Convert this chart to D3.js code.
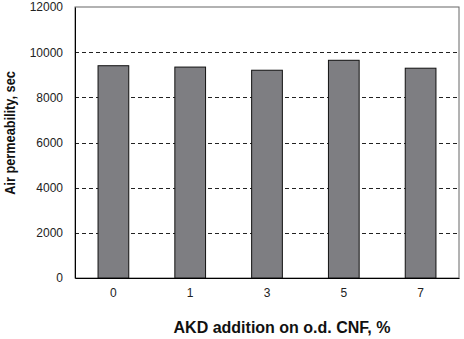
<!DOCTYPE html>
<html><head><meta charset="utf-8">
<script src="https://cdn.jsdelivr.net/npm/d3@7"></script>
<style>body{margin:0;background:#fff}svg{display:block}</style>
</head><body>
<svg id="c" width="464" height="339"></svg>
<script>
const categories = ["0", "1", "3", "5", "7"];
const values = [9400, 9340, 9200, 9640, 9290];
const yTicks = [0, 2000, 4000, 6000, 8000, 10000, 12000];
const xTitle = "AKD addition on o.d. CNF, %";
const yTitle = "Air permeability, sec";

const svg = d3.select("#c");
const m = {l: 75, r: 5, t: 7, b: 61};
const W = 464, H = 339;
const x = d3.scaleBand().domain(categories).range([m.l, W - m.r]).padding(0);
const y = d3.scaleLinear().domain([0, 12000]).range([H - m.b, m.t]);
const font = "Liberation Sans, Arial, sans-serif";

// frame
svg.append("rect").attr("x", m.l).attr("y", m.t)
  .attr("width", W - m.r - m.l).attr("height", H - m.b - m.t)
  .attr("fill", "#fff").attr("stroke", "#666").attr("stroke-width", 1);

// gridlines
svg.append("g").selectAll("line").data(yTicks.filter(d => d > 0 && d < 12000)).join("line")
  .attr("x1", m.l).attr("x2", W - m.r)
  .attr("y1", d => Math.round(y(d)) + 0.5).attr("y2", d => Math.round(y(d)) + 0.5)
  .attr("stroke", "#222").attr("stroke-dasharray", "4,3");

// bars
const bw = x.bandwidth() * 0.4;
svg.append("g").selectAll("rect").data(values).join("rect")
  .attr("x", (d, i) => x(categories[i]) + x.bandwidth() / 2 - bw / 2)
  .attr("width", bw)
  .attr("y", d => y(d))
  .attr("height", d => y(0) - y(d))
  .attr("fill", "#7e7e82").attr("stroke", "#111").attr("stroke-width", 1);

// axes
const ya = svg.append("g").attr("transform", `translate(${m.l},0)`)
  .call(d3.axisLeft(y).tickValues(yTicks).tickSize(0).tickPadding(12).tickFormat(d3.format("d")));
ya.select(".domain").attr("stroke", "#000");
ya.selectAll("text").attr("font-family", font).attr("font-size", 12).attr("fill", "#222");

const xa = svg.append("g").attr("transform", `translate(0,${H - m.b})`)
  .call(d3.axisBottom(x).tickSize(0).tickPadding(10));
xa.select(".domain").attr("stroke", "#000");
xa.selectAll("text").attr("font-family", font).attr("font-size", 12).attr("fill", "#222");

// titles
svg.append("text").attr("x", 282).attr("y", 333).attr("text-anchor", "middle")
  .attr("font-family", font).attr("font-weight", "bold").attr("font-size", 16).attr("fill", "#111")
  .text(xTitle);
svg.append("text").attr("transform", "translate(14.5,133) rotate(-90) scale(0.88,1)").attr("text-anchor", "middle")
  .attr("font-family", font).attr("font-weight", "bold").attr("font-size", 14.5).attr("fill", "#111")
  .text(yTitle);
</script>
</body></html>
